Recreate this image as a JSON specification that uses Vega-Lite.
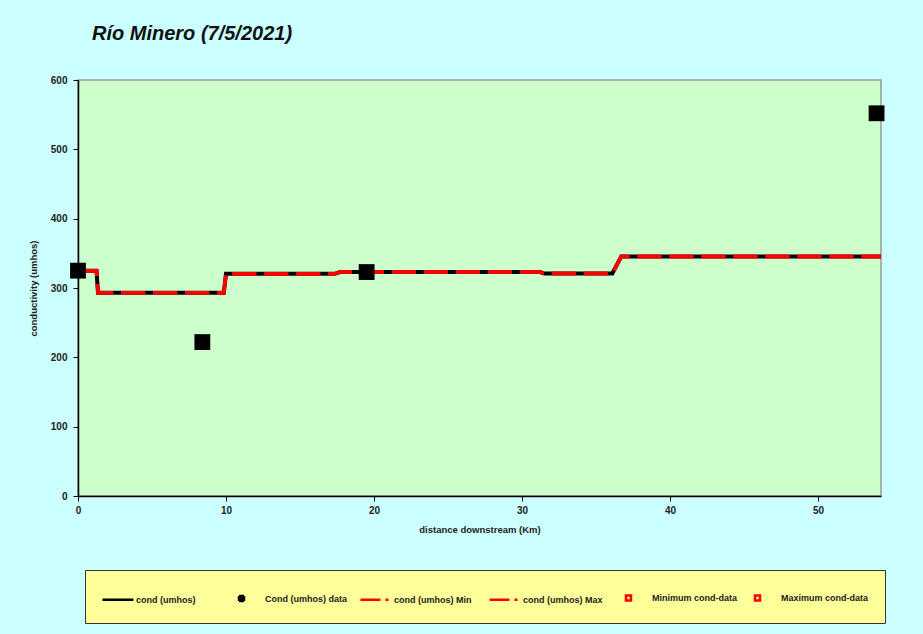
{
  "$schema": "https://vega.github.io/schema/vega-lite/v6.json",
  "width": 803,
  "height": 416,
  "autosize": {"type": "none"},
  "padding": {"left": 78, "top": 80, "right": 42, "bottom": 138},
  "background": "#CCFFFF",
  "title": {
    "text": "Río Minero (7/5/2021)",
    "anchor": "start",
    "frame": "group",
    "dx": 14,
    "offset": 11,
    "baseline": "bottom",
    "font": "Liberation Sans",
    "fontSize": 20,
    "fontWeight": "bold",
    "fontStyle": "italic",
    "color": "#111111"
  },
  "config": {
    "view": {"fill": "#CCFFCC", "stroke": "#999999", "strokeWidth": 1.5},
    "axis": {
      "grid": false,
      "labelFont": "Liberation Sans",
      "labelFontSize": 10,
      "labelFontWeight": "bold",
      "labelColor": "#222222",
      "titleFont": "Liberation Sans",
      "titleFontSize": 9.5,
      "titleFontWeight": "bold",
      "titleColor": "#222222",
      "tickColor": "#000000",
      "domainColor": "#000000"
    }
  },
  "datasets": {
    "lines": [
      {"series": "cond (umhos)", "km": 0, "cond": 325},
      {"series": "cond (umhos)", "km": 1.25, "cond": 325},
      {"series": "cond (umhos)", "km": 1.35, "cond": 293},
      {"series": "cond (umhos)", "km": 9.85, "cond": 293},
      {"series": "cond (umhos)", "km": 10.0, "cond": 320.5},
      {"series": "cond (umhos)", "km": 17.35, "cond": 320.5},
      {"series": "cond (umhos)", "km": 17.7, "cond": 323},
      {"series": "cond (umhos)", "km": 31.2, "cond": 323},
      {"series": "cond (umhos)", "km": 31.5, "cond": 321},
      {"series": "cond (umhos)", "km": 36.1, "cond": 321},
      {"series": "cond (umhos)", "km": 36.7, "cond": 345.5},
      {"series": "cond (umhos)", "km": 54.25, "cond": 345.5},
      {"series": "cond (umhos) Min", "km": 0, "cond": 325},
      {"series": "cond (umhos) Min", "km": 1.25, "cond": 325},
      {"series": "cond (umhos) Min", "km": 1.35, "cond": 293},
      {"series": "cond (umhos) Min", "km": 9.85, "cond": 293},
      {"series": "cond (umhos) Min", "km": 10.0, "cond": 320.5},
      {"series": "cond (umhos) Min", "km": 17.35, "cond": 320.5},
      {"series": "cond (umhos) Min", "km": 17.7, "cond": 323},
      {"series": "cond (umhos) Min", "km": 31.2, "cond": 323},
      {"series": "cond (umhos) Min", "km": 31.5, "cond": 321},
      {"series": "cond (umhos) Min", "km": 36.1, "cond": 321},
      {"series": "cond (umhos) Min", "km": 36.7, "cond": 345.5},
      {"series": "cond (umhos) Min", "km": 54.25, "cond": 345.5},
      {"series": "cond (umhos) Max", "km": 0, "cond": 325},
      {"series": "cond (umhos) Max", "km": 1.25, "cond": 325},
      {"series": "cond (umhos) Max", "km": 1.35, "cond": 293},
      {"series": "cond (umhos) Max", "km": 9.85, "cond": 293},
      {"series": "cond (umhos) Max", "km": 10.0, "cond": 320.5},
      {"series": "cond (umhos) Max", "km": 17.35, "cond": 320.5},
      {"series": "cond (umhos) Max", "km": 17.7, "cond": 323},
      {"series": "cond (umhos) Max", "km": 31.2, "cond": 323},
      {"series": "cond (umhos) Max", "km": 31.5, "cond": 321},
      {"series": "cond (umhos) Max", "km": 36.1, "cond": 321},
      {"series": "cond (umhos) Max", "km": 36.7, "cond": 345.5},
      {"series": "cond (umhos) Max", "km": 54.25, "cond": 345.5}
    ],
    "obs": [
      {"series": "Cond (umhos) data", "km": 0, "cond": 325},
      {"series": "Cond (umhos) data", "km": 8.4, "cond": 222},
      {"series": "Cond (umhos) data", "km": 19.5, "cond": 323},
      {"series": "Cond (umhos) data", "km": 53.95, "cond": 552}
    ]
  },
  "layer": [
    {
      "data": {"name": "lines"},
      "transform": [{"filter": "datum.series == 'cond (umhos)'"}],
      "mark": {"type": "line", "strokeWidth": 4, "strokeCap": "butt"},
      "encoding": {
        "x": {
          "field": "km", "type": "quantitative",
          "scale": {"domain": [0, 54.25], "nice": false, "zero": false},
          "axis": {
            "orient": "bottom",
            "values": [0, 10, 20, 30, 40, 50],
            "labelOverlap": false,
            "title": "distance downstream (Km)",
            "tickSize": 5,
            "domainWidth": 1.5,
            "labelPadding": 4,
            "labelFlush": false,
            "titlePadding": 9
          }
        },
        "y": {
          "field": "cond", "type": "quantitative",
          "scale": {"domain": [0, 600], "nice": false},
          "axis": {
            "orient": "left",
            "values": [0, 100, 200, 300, 400, 500, 600],
            "labelOverlap": false,
            "title": "conductivity (umhos)",
            "tickSize": 5,
            "domainWidth": 1.5,
            "labelPadding": 6,
            "titlePadding": 12
          }
        },
        "color": {
          "field": "series", "type": "nominal",
          "scale": {
            "domain": ["cond (umhos)", "Cond (umhos) data", "cond (umhos) Min", "cond (umhos) Max", "Minimum cond-data", "Maximum cond-data"],
            "range": ["#000000", "#000000", "#FF0000", "#FF0000", "#FF0000", "#FF0000"]
          },
          "legend": {
            "title": null,
            "orient": "none",
            "legendX": 7,
            "legendY": 490,
            "direction": "horizontal",
            "columns": 6,
            "gridAlign": "all",
            "columnPadding": 2,
            "padding": 16,
            "fillColor": "#FFFF99",
            "strokeColor": "#333333",
            "symbolSize": 400,
            "symbolStrokeWidth": 2.5,
            "labelFont": "Liberation Sans",
            "labelFontSize": 9,
            "labelFontWeight": "bold",
            "labelColor": "#222222",
            "labelOffset": 12,
            "labelLimit": 200
          }
        },
        "strokeDash": {
          "field": "series", "type": "nominal",
          "scale": {
            "domain": ["cond (umhos)", "Cond (umhos) data", "cond (umhos) Min", "cond (umhos) Max", "Minimum cond-data", "Maximum cond-data"],
            "range": [[1, 0], [1, 0], [20, 5, 3, 100], [20, 5, 3, 100], [1, 0], [1, 0]]
          }
        }
      }
    },
    {
      "data": {"name": "lines"},
      "transform": [{"filter": "datum.series != 'cond (umhos)'"}],
      "mark": {"type": "line", "strokeWidth": 3.5, "strokeDash": [24, 8], "strokeCap": "butt"},
      "encoding": {
        "x": {"field": "km", "type": "quantitative"},
        "y": {"field": "cond", "type": "quantitative"},
        "color": {"field": "series", "type": "nominal"},
        "detail": {"field": "series"}
      }
    },
    {
      "data": {"name": "obs"},
      "mark": {"type": "square", "size": 250, "filled": true, "opacity": 1},
      "encoding": {
        "x": {"field": "km", "type": "quantitative"},
        "y": {"field": "cond", "type": "quantitative"},
        "color": {"field": "series", "type": "nominal"}
      }
    },
    {
      "data": {"name": "obs"},
      "transform": [{"filter": "false"}],
      "mark": {"type": "point", "filled": false},
      "encoding": {
        "x": {"field": "km", "type": "quantitative"},
        "y": {"field": "cond", "type": "quantitative"},
        "color": {"field": "series", "type": "nominal"},
        "shape": {
          "field": "series", "type": "nominal",
          "scale": {
            "domain": ["cond (umhos)", "Cond (umhos) data", "cond (umhos) Min", "cond (umhos) Max", "Minimum cond-data", "Maximum cond-data"],
            "range": [
              "M-1,0H2.1",
              "M-0.25,-0.25H0.25V0.25H-0.25Z",
              "M-1,0H1.8",
              "M-1,0H1.8",
              "M-0.375,-0.25H0.375M0.25,-0.375V0.375M0.375,0.25H-0.375M-0.25,0.375V-0.375",
              "M-0.375,-0.25H0.375M0.25,-0.375V0.375M0.375,0.25H-0.375M-0.25,0.375V-0.375"
            ]
          }
        }
      }
    }
  ]
}
